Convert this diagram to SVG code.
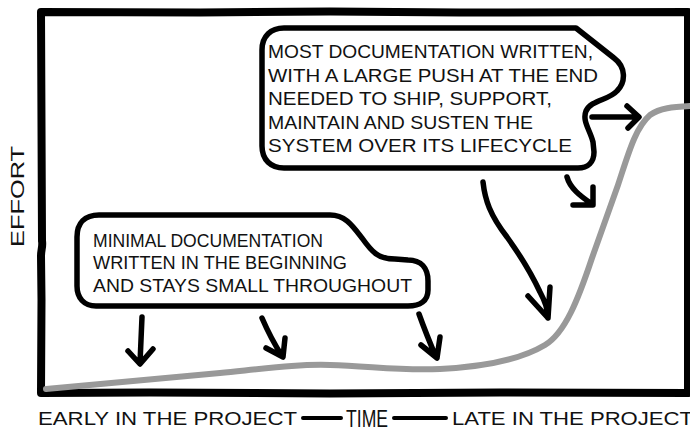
<svg xmlns="http://www.w3.org/2000/svg" width="690" height="431" viewBox="0 0 690 431">
  <style>
    .ink { fill: none; stroke: #000; stroke-linecap: round; stroke-linejoin: round; }
    .frame { stroke-width: 8; }
    .bubble { fill: #fff; stroke: #000; stroke-width: 5.5; stroke-linejoin: round; }
    .arrow { stroke-width: 5.5; }
    .curve { fill: none; stroke: #999; stroke-width: 6; stroke-linecap: round; }
    .txt { font-family: "Liberation Sans", Arial, sans-serif; font-size: 18px; fill: #111; }
  </style>

  <rect width="690" height="431" fill="#fff"/>

  <!-- plot frame, slightly hand-drawn -->
  <g id="frame">
    <path class="ink frame" d="M41,393 L41.5,300 L41,256 C41,250 43,246 42,241 L41,12 L200,12.5 L330,11.5 L460,12.5 L688,12 L688,393 L500,392.5 L330,393.5 L150,392.5 Z"/>
  </g>

  <!-- effort over time -->
  <g id="curve">
    <path class="curve" d="M46,389 L220,373 C270,368 300,364 330,365 C370,366 400,371 440,369 C480,367 520,360 545,345 C565,333 578,300 592,258 L618,185 C628,155 635,128 650,115 C660,108 672,107 692,106"/>
  </g>

  <!-- late-project note -->
  <g id="note-late">
    <path class="bubble" d="M284,28 L576,28 L614,58 C626,67 626,82 617,91 C609,100 591,100 586,111 C582,121 590,130 593,142 L594,152 C594,162 588,168 578,168 L284,168 C271,168 262,160 262,146 L262,50 C262,36 271,28 284,28 Z"/>
    <text class="txt" x="268" y="58" textLength="325" lengthAdjust="spacingAndGlyphs">MOST DOCUMENTATION WRITTEN,</text>
    <text class="txt" x="268" y="82" textLength="330" lengthAdjust="spacingAndGlyphs">WITH A LARGE PUSH AT THE END</text>
    <text class="txt" x="268" y="105" textLength="284" lengthAdjust="spacingAndGlyphs">NEEDED TO SHIP, SUPPORT,</text>
    <text class="txt" x="268" y="129" textLength="265" lengthAdjust="spacingAndGlyphs">MAINTAIN AND SUSTEN THE</text>
    <text class="txt" x="268" y="152" textLength="304" lengthAdjust="spacingAndGlyphs">SYSTEM OVER ITS LIFECYCLE</text>
  </g>

  <!-- early-project note -->
  <g id="note-early">
    <path class="bubble" d="M99,215 L330,215 C345,215 352,225 362,238 C372,252 378,259 395,259 L408,260 C421,260 428,268 428,281 L428,290 C428,301 420,306 408,306 L96,306 C84,306 77,298 77,286 L77,237 C77,223 85,215 99,215 Z"/>
    <text class="txt" x="93" y="247" textLength="230" lengthAdjust="spacingAndGlyphs">MINIMAL DOCUMENTATION</text>
    <text class="txt" x="93" y="269" textLength="254" lengthAdjust="spacingAndGlyphs">WRITTEN IN THE BEGINNING</text>
    <text class="txt" x="93" y="292" textLength="319" lengthAdjust="spacingAndGlyphs">AND STAYS SMALL THROUGHOUT</text>
  </g>

  <!-- pointers from the notes to the curve -->
  <g id="connectors">
    <path class="ink arrow" d="M142,317 L140,363 M128,351 L140,364 L153,349"/>
    <path class="ink arrow" d="M262,318 C268,332 275,345 282,356 M266,348 L283,357 L285,338"/>
    <path class="ink arrow" d="M419,314 C424,328 430,343 436,357 M421,345 L437,358 L440,337"/>
    <path class="ink arrow" d="M483,182 C485,200 490,215 507,237 C520,255 532,275 540,292 C546,303 548,310 548,318 M528,296 L548,318 L550,287"/>
    <path class="ink arrow" d="M567,177 C570,188 580,196 592,204 M573,205 L593,205 L593,187"/>
    <path class="ink arrow" d="M592,117 L638,117 M627,106 L639,117 L628,128"/>
  </g>

  <!-- axis labels -->
  <g id="axis-labels">
    <text class="txt" transform="translate(24,247) rotate(-90)" font-size="19" textLength="101" lengthAdjust="spacingAndGlyphs">EFFORT</text>
    <text class="txt" x="38" y="425" textLength="259" lengthAdjust="spacingAndGlyphs">EARLY IN THE PROJECT</text>
    <path class="ink" stroke-width="4" d="M303,418 L341,418 M394,418 L446,418"/>
    <text x="346" y="427" font-family="Liberation Sans, Arial, sans-serif" font-size="24" fill="#111" textLength="42" lengthAdjust="spacingAndGlyphs">TIME</text>
    <text class="txt" x="452" y="425" textLength="241" lengthAdjust="spacingAndGlyphs">LATE IN THE PROJECT</text>
  </g>
</svg>
